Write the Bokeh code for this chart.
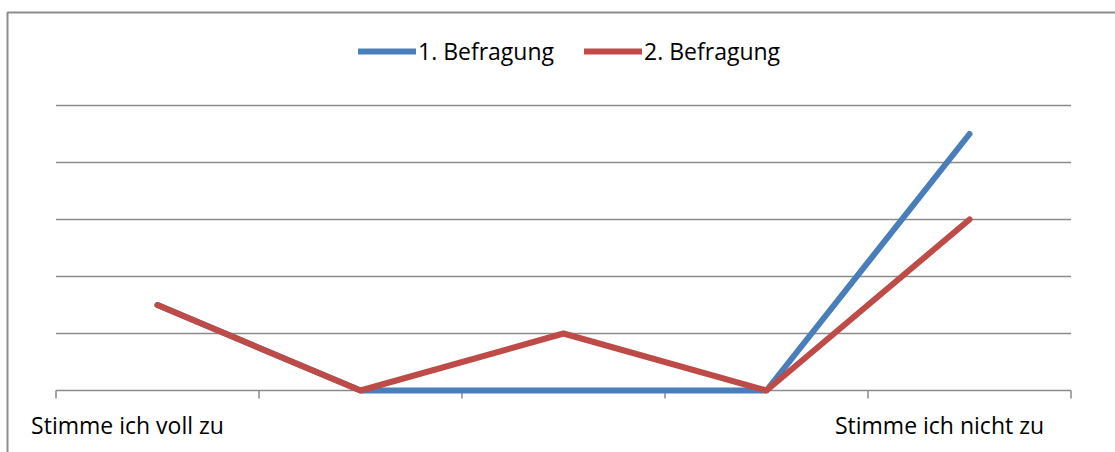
from math import pi
from bokeh.plotting import figure
from bokeh.models import Range1d, Legend, LegendItem, BoxAnnotation
from bokeh.core.properties import value
from bokeh.embed import file_html
from bokeh.resources import INLINE

# ---- data ----
categories = ["Stimme ich voll zu", "", "", "", "Stimme ich nicht zu"]
befragung_1 = [1.5, 0, 0, 0, 4.5]
befragung_2 = [1.5, 0, 1, 0, 3]
series_names = ["1. Befragung", "2. Befragung"]
grid_values = [1, 2, 3, 4, 5]

x = list(range(len(categories)))
cat_bounds = [i - 0.5 for i in range(len(categories) + 1)]

FONT = "Open Sans"
GRID_COLOR = "#8a8a8a"

# pixel layout helpers (category step 203px, value step 57px)
XS, X0 = 203.0, 157.0
YS, Y0 = 57.0, 390.0
x_start, x_end = (0 - X0) / XS, (1115 - X0) / XS
y_start, y_end = (Y0 - 452) / YS, Y0 / YS

p = figure(width=1115, height=452, output_backend="svg", toolbar_location=None,
           x_range=Range1d(x_start, x_end), y_range=Range1d(y_start, y_end),
           min_border_left=0, min_border_top=0, min_border_right=0, min_border_bottom=0)
p.xaxis.visible = False
p.yaxis.visible = False
p.xgrid.visible = False
p.ygrid.visible = False
p.outline_line_color = None
p.background_fill_color = "white"
p.border_fill_color = "white"

# chart-area border (only top and left edges fall inside the window)
p.add_layout(BoxAnnotation(left=(7 - X0) / XS, top=(Y0 - 12) / YS,
                           right=x_end + 1, bottom=y_start - 1,
                           fill_alpha=0, fill_color=None,
                           line_color="#8c8c8c", line_alpha=1.0, line_width=2))

# horizontal gridlines across the category span
p.segment(x0=[cat_bounds[0]] * len(grid_values), x1=[cat_bounds[-1]] * len(grid_values),
          y0=grid_values, y1=grid_values, line_color=GRID_COLOR, line_width=1.5)
# category axis line and ticks
p.segment(x0=[cat_bounds[0]], x1=[cat_bounds[-1]], y0=[0], y1=[0],
          line_color=GRID_COLOR, line_width=1.5)
p.ray(x=cat_bounds, y=[0] * len(cat_bounds), length=8, length_units="screen",
      angle=-pi / 2, line_color=GRID_COLOR, line_width=1.5)

# category labels (only first and last are shown)
lab_idx = [i for i, c in enumerate(categories) if c]
p.text(x=lab_idx, y=[0] * len(lab_idx), text=[categories[i] for i in lab_idx],
       x_offset=-30, y_offset=34, text_align="center", text_baseline="alphabetic",
       text_font=value(FONT), text_font_size="23px", text_color="#000000")

r1 = p.line(x, befragung_1, line_color="#4A7EBB", line_width=6,
            line_cap="round", line_join="round")
r2 = p.line(x, befragung_2, line_color="#BE4B48", line_width=6,
            line_cap="round", line_join="round")

legend = Legend(items=[LegendItem(label=series_names[0], renderers=[r1]),
                       LegendItem(label=series_names[1], renderers=[r2])],
                location=(358, 385), orientation="horizontal",
                glyph_width=58, glyph_height=20, label_standoff=2, spacing=30,
                padding=0, margin=0, border_line_color=None,
                background_fill_alpha=0,
                label_text_font=FONT, label_text_font_size="23px",
                label_text_color="#000000")
p.add_layout(legend)

open("out.html", "w").write(file_html(p, INLINE))
